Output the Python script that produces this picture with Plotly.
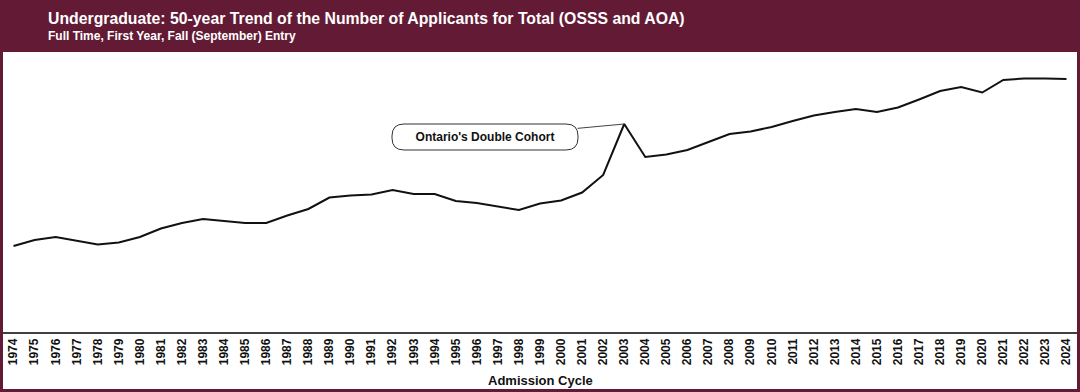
import plotly.graph_objects as go

W, H = 1080, 392

years = [str(y) for y in range(1974, 2025)]
applicants = [
    43000, 46000, 47500, 45500, 43750, 44750, 47500, 51750, 54500, 56500,
    55500, 54500, 54500, 58250, 61500, 67250, 68250, 68750, 71000, 69000,
    69000, 65500, 64500, 62750, 61000, 64250, 65750, 69750, 78500, 104000,
    87500, 88750, 91000, 95000, 99000, 100250, 102500, 105500, 108250, 110000,
    111500, 110000, 112250, 116250, 120500, 122500, 119750, 126000, 126750, 126750,
    126500,
]

title = "Undergraduate: 50-year Trend of the Number of Applicants for Total (OSSS and AOA)"
subtitle = "Full Time, First Year, Fall (September) Entry"
x_title = "Admission Cycle"
callout_year = "2003"
callout_text = "Ontario's Double Cohort"

MAROON = "#631B35"
FONT = "Arial, Liberation Sans, sans-serif"


def px(x):
    return x / W


def py(y):
    return 1 - y / H


fig = go.Figure()
fig.add_trace(go.Scatter(
    x=years, y=applicants, mode="lines",
    line=dict(color="#111111", width=2),
    hoverinfo="x+y", showlegend=False,
))

# rounded callout box path (pixel geometry converted to paper coords)
bx0, bx1, by0, by1, r = 392, 578, 124, 150, 12


def pt(x, y):
    return f"{px(x):.5f},{py(y):.5f}"


box_path = (
    f"M {pt(bx0 + r, by0)} L {pt(bx1 - r, by0)} Q {pt(bx1, by0)} {pt(bx1, by0 + r)} "
    f"L {pt(bx1, by1 - r)} Q {pt(bx1, by1)} {pt(bx1 - r, by1)} "
    f"L {pt(bx0 + r, by1)} Q {pt(bx0, by1)} {pt(bx0, by1 - r)} "
    f"L {pt(bx0, by0 + r)} Q {pt(bx0, by0)} {pt(bx0 + r, by0)} Z"
)

shapes = [
    # header band
    dict(type="rect", xref="paper", yref="paper", x0=0, x1=1, y0=py(52), y1=1,
         fillcolor=MAROON, line=dict(width=0), layer="below"),
    # outer frame
    dict(type="rect", xref="paper", yref="paper", x0=px(1.5), x1=px(1078.5),
         y0=py(390.5), y1=py(1), line=dict(color=MAROON, width=3), fillcolor="rgba(0,0,0,0)"),
    # callout box
    dict(type="path", xref="paper", yref="paper", path=box_path,
         line=dict(color="#333333", width=1), fillcolor="white"),
]

ci = years.index(callout_year)
annotations = [
    dict(xref="paper", yref="paper", x=px(46), y=py(19), xanchor="left", yanchor="middle",
         text=f"<b>{title}</b>", showarrow=False,
         font=dict(family=FONT, size=15.8, color="white")),
    dict(xref="paper", yref="paper", x=px(46), y=py(35.5), xanchor="left", yanchor="middle",
         text=f"<b>{subtitle}</b>", showarrow=False,
         font=dict(family=FONT, size=12, color="white")),
    dict(xref="paper", yref="paper", x=0.5, y=py(380), xanchor="center", yanchor="middle",
         text=f"<b>{x_title}</b>", showarrow=False,
         font=dict(family=FONT, size=13, color="#111111")),
    dict(x=ci, y=applicants[ci], xref="x", yref="y",
         text=f"<b>{callout_text}</b>", showarrow=True, arrowhead=0, arrowwidth=1,
         arrowcolor="#444444", axref="pixel", ayref="pixel",
         ax=(bx0 + bx1) / 2 - 624.7, ay=(by0 + by1) / 2 - 124,
         width=bx1 - bx0, height=by1 - by0, borderpad=0, borderwidth=0,
         font=dict(family=FONT, size=12, color="#111111")),
]

fig.update_layout(
    width=W, height=H,
    margin=dict(l=0, r=0, t=0, b=0),
    paper_bgcolor="white", plot_bgcolor="white",
    shapes=shapes, annotations=annotations,
    xaxis=dict(
        domain=[px(3), px(1077)], type="category", range=[-0.5, len(years) - 0.5],
        tickangle=-90, ticks="", showgrid=False, zeroline=False,
        showline=True, linecolor="#404040", linewidth=1.5,
        tickfont=dict(family=FONT, size=12, color="#111111"),
        tickprefix="<b>", ticksuffix="</b>", dtick=1,
    ),
    yaxis=dict(
        domain=[py(332), py(52)], range=[0, 140000],
        showticklabels=False, showgrid=False, zeroline=False, showline=False, ticks="",
    ),
)

fig.write_html("out.html", config={"displayModeBar": False},
               post_script="document.body.style.margin='0px';")
